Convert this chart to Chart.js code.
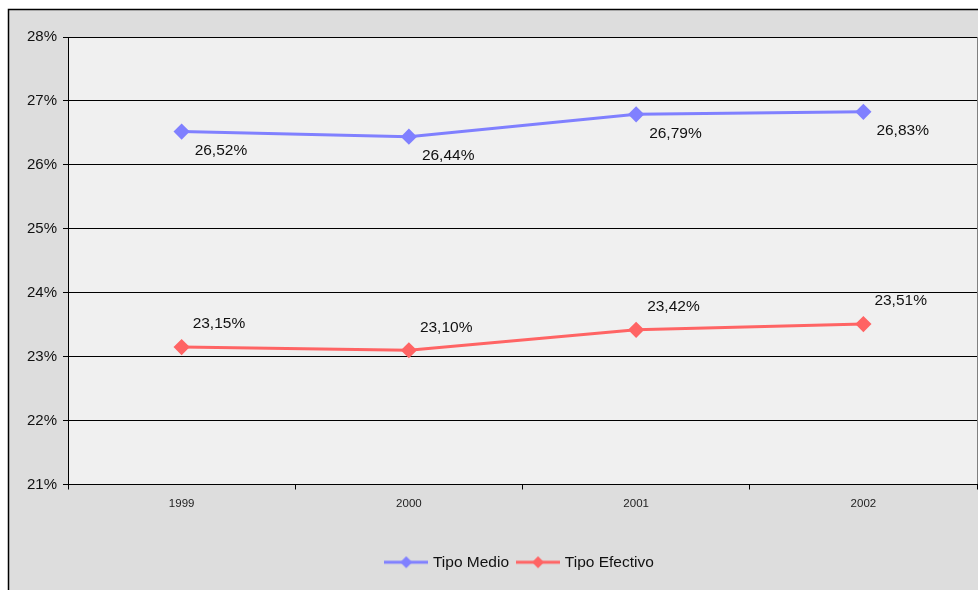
<!DOCTYPE html>
<html>
<head>
<meta charset="utf-8">
<script src="https://cdn.jsdelivr.net/npm/chart.js@4"></script>
<style>
  html, body { margin: 0; padding: 0; background: #fff; }
  #wrap { width: 978px; height: 590px; position: relative; }
</style>
</head>
<body>
<div id="wrap"><canvas id="chart" width="978" height="590"></canvas></div>
<script>
// Tipo Medio vs Tipo Efectivo, 1999-2002
const years = ['1999', '2000', '2001', '2002'];
const tipoMedio = [26.52, 26.44, 26.79, 26.83];
const tipoEfectivo = [23.15, 23.10, 23.42, 23.51];
const yTicks = [21, 22, 23, 24, 25, 26, 27, 28];

const BLUE = '#8080ff';
const RED = '#ff6464';
const FONT = "Arial, 'Liberation Sans', sans-serif";

function fmtPct(v) {
  return v.toFixed(2).replace('.', ',') + '%';
}

// small line + diamond image for the legend
function legendMarker(color) {
  const c = document.createElement('canvas');
  c.width = 44;
  c.height = 14;
  const g = c.getContext('2d');
  g.strokeStyle = color;
  g.lineWidth = 3;
  g.beginPath();
  g.moveTo(0, 7);
  g.lineTo(44, 7);
  g.stroke();
  g.fillStyle = color;
  g.beginPath();
  g.moveTo(22, 1);
  g.lineTo(28, 7);
  g.lineTo(22, 13);
  g.lineTo(16, 7);
  g.closePath();
  g.fill();
  return c;
}

const backdrop = {
  id: 'backdrop',
  beforeDraw(chart) {
    const ctx = chart.ctx;
    const a = chart.chartArea;
    ctx.save();
    ctx.fillStyle = '#ffffff';
    ctx.fillRect(0, 0, chart.width, chart.height);
    ctx.fillStyle = '#dddddd';
    ctx.fillRect(8, 9, chart.width, chart.height);
    ctx.strokeStyle = '#000';
    ctx.lineWidth = 1.5;
    ctx.beginPath();
    ctx.moveTo(8.5, chart.height);
    ctx.lineTo(8.5, 9.5);
    ctx.lineTo(chart.width, 9.5);
    ctx.stroke();
    ctx.fillStyle = '#f0f0f0';
    ctx.fillRect(a.left, a.top, a.right - a.left, a.bottom - a.top);
    ctx.strokeStyle = '#808080';
    ctx.lineWidth = 1;
    ctx.beginPath();
    ctx.moveTo(a.right + 0.5, a.top);
    ctx.lineTo(a.right + 0.5, a.bottom);
    ctx.stroke();
    ctx.restore();
  },
  afterLayout(chart) {
    // legend is centred on the full frame, a bit right of canvas centre
    const lg = chart.legend;
    if (lg) {
      lg.left += 32;
      lg.right += 32;
      lg.top += 4;
      lg.bottom += 4;
    }
  }
};

const valueLabels = {
  id: 'valueLabels',
  afterDatasetsDraw(chart) {
    const ctx = chart.ctx;
    ctx.save();
    ctx.font = '15.5px ' + FONT;
    ctx.fillStyle = '#111';
    ctx.textAlign = 'left';
    ctx.textBaseline = 'middle';
    chart.data.datasets.forEach((ds, i) => {
      const meta = chart.getDatasetMeta(i);
      const below = i === 0;
      meta.data.forEach((pt, j) => {
        const dx = below ? 13 : 11;
        const dy = below ? 19 : -23;
        ctx.fillText(fmtPct(ds.data[j]), pt.x + dx, pt.y + dy);
      });
    });
    ctx.restore();
  }
};

new Chart(document.getElementById('chart'), {
  type: 'line',
  data: {
    labels: years,
    datasets: [
      {
        label: 'Tipo Medio',
        data: tipoMedio,
        borderColor: BLUE,
        backgroundColor: BLUE,
        borderWidth: 3,
        pointStyle: 'rectRot',
        pointRadius: 6,
        pointBackgroundColor: BLUE,
        pointBorderColor: BLUE,
        tension: 0
      },
      {
        label: 'Tipo Efectivo',
        data: tipoEfectivo,
        borderColor: RED,
        backgroundColor: RED,
        borderWidth: 3,
        pointStyle: 'rectRot',
        pointRadius: 6,
        pointBackgroundColor: RED,
        pointBorderColor: RED,
        tension: 0
      }
    ]
  },
  options: {
    responsive: false,
    animation: false,
    layout: { autoPadding: false, padding: { top: 37, right: 1, bottom: 14, left: 0 } },
    scales: {
      x: {
        offset: true,
        grid: {
          offset: true,
          drawOnChartArea: false,
          color: '#000',
          tickLength: 5
        },
        border: { color: '#000', width: 1 },
        ticks: {
          color: '#222',
          padding: 7,
          font: { family: FONT, size: 11.5 }
        },
        afterFit(scale) {
          scale.height = 56;
          scale.paddingLeft = 0;
          scale.paddingRight = 0;
        }
      },
      y: {
        min: yTicks[0],
        max: yTicks[yTicks.length - 1],
        afterBuildTicks(scale) {
          scale.ticks = yTicks.map(v => ({ value: v }));
        },
        grid: { color: '#000', tickLength: 5 },
        border: { color: '#000', width: 1 },
        ticks: {
          color: '#111',
          padding: 6,
          font: { family: FONT, size: 15 },
          callback: v => v + '%'
        },
        afterFit(scale) { scale.width = 68; }
      }
    },
    plugins: {
      tooltip: { enabled: false },
      legend: {
        position: 'bottom',
        labels: {
          color: '#111',
          usePointStyle: true,
          pointStyleWidth: 38,
          padding: 10,
          font: { family: FONT, size: 15.5 },
          generateLabels(chart) {
            const items = Chart.defaults.plugins.legend.labels.generateLabels(chart);
            items.forEach((it, i) => {
              it.pointStyle = legendMarker(i === 0 ? BLUE : RED);
            });
            return items;
          }
        }
      }
    }
  },
  plugins: [backdrop, valueLabels]
});
</script>
</body>
</html>
